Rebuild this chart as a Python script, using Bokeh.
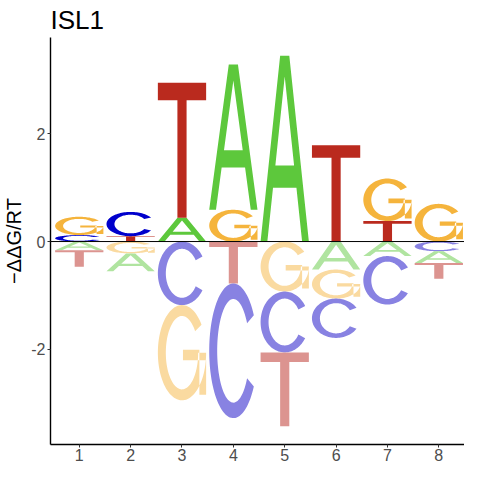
import numpy as np
from bokeh.plotting import figure
from bokeh.models import Range1d, FixedTicker, Span, ColumnDataSource
from bokeh.embed import file_html
from bokeh.resources import INLINE

# ---------------- data ----------------
positions = [1, 2, 3, 4, 5, 6, 7, 8]
ddg_A = [-0.16, -0.33, 0.44, 2.70, 3.45, -0.52, -0.27, -0.22]
ddg_C = [0.12, 0.45, -1.18, -2.50, -1.13, -0.73, -0.90, -0.18]
ddg_G = [0.34, -0.22, -1.77, 0.59, -0.93, -0.54, 0.79, 0.70]
ddg_T = [-0.31, 0.10, 2.51, -0.78, -1.37, 1.79, 0.38, -0.29]

x_ticks = [1, 2, 3, 4, 5, 6, 7, 8]
y_ticks = [-2, 0, 2]
y_tick_labels = ["-2", "0", "2"]
title_text = "ISL1"
y_label = "\u2212\u0394\u0394G/RT"

colors_pos = {"A": "#5DC83C", "C": "#0000CC", "G": "#F5B43C", "T": "#BA2A1E"}
colors_neg = {"A": "#B0E4A0", "C": "#8882E2", "G": "#FADAA0", "T": "#DC9490"}
LETTER_WIDTH = 0.94

# ---------------- letter shapes (unit box) ----------------
def arc_ring(a0, a1, ro=(0.5, 0.5), ri=(0.335, 0.385), n=90):
    a = np.radians(np.linspace(a0, a1, n))
    ox = 0.5 + ro[0] * np.cos(a)
    oy = 0.5 + ro[1] * np.sin(a)
    ix = 0.5 + ri[0] * np.cos(a[::-1])
    iy = 0.5 + ri[1] * np.sin(a[::-1])
    return [list(zip(np.concatenate([ox, ix]), np.concatenate([oy, iy])))]

def rect(x0, x1, y0, y1):
    return [[(x0, y0), (x1, y0), (x1, y1), (x0, y1)]]

A_outer = [(0, 0), (0.405, 1), (0.595, 1), (1, 0), (0.86, 0),
           (0.86 - 0.405 * 0.29, 0.29), (0.14 + 0.405 * 0.29, 0.29), (0.14, 0)]
A_hole = [(0.14 + 0.405 * 0.41, 0.41), (0.86 - 0.405 * 0.41, 0.41), (0.5, 0.889)]

SHAPES = {
    "A": [[A_outer, A_hole]],
    "C": [arc_ring(32, 328)],
    "G": [arc_ring(36, 360), rect(0.52, 1.0, 0.42, 0.53), rect(0.86, 1.0, 0.06, 0.53)],
    "T": [[[(0, 1), (1, 1), (1, 0.87), (0.595, 0.87), (0.595, 0),
            (0.405, 0), (0.405, 0.87), (0, 0.87)]]],
}

xs, ys, cols = [], [], []

def add_letter(L, xc, bottom, h, color):
    gx, gy = [], []
    for poly in SHAPES[L]:
        px, py = [], []
        for ring in poly:
            px.append([xc - LETTER_WIDTH / 2 + u * LETTER_WIDTH for u, v in ring])
            py.append([bottom + v * h for u, v in ring])
        gx.append(px)
        gy.append(py)
    xs.append(gx)
    ys.append(gy)
    cols.append(color)

for i, pos in enumerate(positions):
    vals = {"A": ddg_A[i], "C": ddg_C[i], "G": ddg_G[i], "T": ddg_T[i]}
    pos_letters = sorted([(v, L) for L, v in vals.items() if v > 0])
    y0 = 0.0
    for v, L in pos_letters:
        add_letter(L, pos, y0, v, colors_pos[L])
        y0 += v
    neg_letters = sorted([(v, L) for L, v in vals.items() if v < 0], reverse=True)
    y0 = 0.0
    for v, L in neg_letters:
        add_letter(L, pos, y0 + v, -v, colors_neg[L])
        y0 += v

src = ColumnDataSource(dict(xs=xs, ys=ys, color=cols))

# ---------------- figure ----------------
p = figure(width=464, height=464, output_backend="svg", toolbar_location=None,
           x_range=Range1d(0.44, 8.50), y_range=Range1d(-3.77, 3.79),
           min_border_left=41, min_border_right=0, min_border_top=29, min_border_bottom=20)
p.multi_polygons(xs="xs", ys="ys", fill_color="color", line_color=None, source=src)
p.add_layout(Span(location=0, dimension="width", line_color="black", line_width=1))

p.title.text = title_text
p.title.text_font = "Liberation Sans"
p.title.text_font_size = "26px"
p.title.text_font_style = "normal"
p.title.text_color = "black"
p.title.standoff = 5
p.title.offset = 0

p.xgrid.visible = False
p.ygrid.visible = False
p.outline_line_color = None
p.background_fill_color = "white"
p.border_fill_color = "white"

p.xaxis.ticker = FixedTicker(ticks=x_ticks)
p.yaxis.ticker = FixedTicker(ticks=y_ticks)
p.yaxis.major_label_overrides = {t: s for t, s in zip(y_ticks, y_tick_labels)}
p.xaxis.major_label_overrides = {t: str(t) for t in x_ticks}
for ax in (p.xaxis, p.yaxis):
    ax.axis_line_color = "black"
    ax.axis_line_width = 1.4
    ax.major_tick_line_color = "#333333"
    ax.major_tick_line_width = 1
    ax.major_tick_out = 3
    ax.major_tick_in = 0
    ax.minor_tick_line_color = None
    ax.major_label_text_font = "Liberation Sans"
    ax.major_label_text_font_size = "16px"
    ax.major_label_text_color = "#4D4D4D"
    ax.major_label_standoff = 2
p.xaxis.major_label_standoff = 1
p.yaxis.axis_label = y_label
p.yaxis.axis_label_text_font = "Liberation Sans"
p.yaxis.axis_label_text_font_size = "20px"
p.yaxis.axis_label_text_font_style = "normal"
p.yaxis.axis_label_text_color = "black"
p.yaxis.axis_label_standoff = 3

open("out.html", "w").write(file_html(p, INLINE))
